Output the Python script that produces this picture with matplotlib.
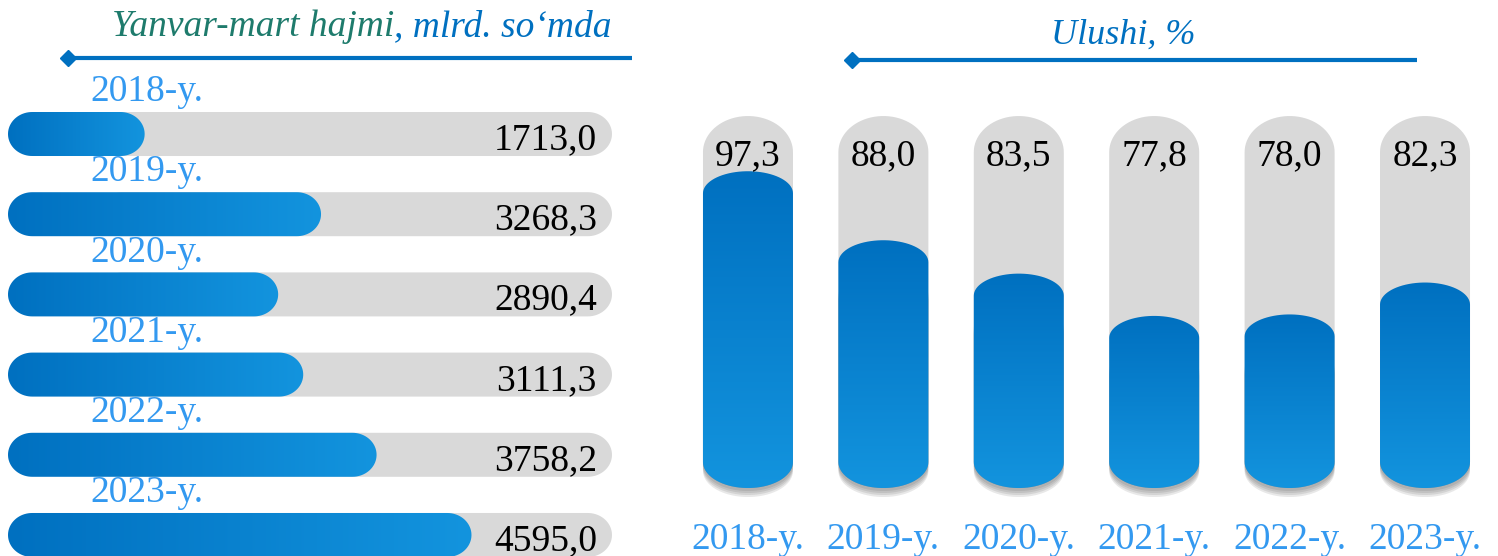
import numpy as np
import matplotlib.pyplot as plt
from matplotlib.path import Path
from matplotlib.patches import PathPatch
from matplotlib.lines import Line2D
from matplotlib.colors import LinearSegmentedColormap

# data
years = ['2018-y.', '2019-y.', '2020-y.', '2021-y.', '2022-y.', '2023-y.']
volume = [1713.0, 3268.3, 2890.4, 3111.3, 3758.2, 4595.0]   # mlrd. so'm
share = [97.3, 88.0, 83.5, 77.8, 78.0, 82.3]               # %

BLUE_DARK = '#0070c0'
BLUE_LIGHT = '#1394de'
GREY = '#d9d9d9'
YEAR_COLOR = '#3399f0'
TEAL = '#1e7b6c'

plt.rcParams['font.family'] = ['Liberation Serif', 'DejaVu Serif']

W, H = 1498, 556
fig = plt.figure(figsize=(W / 100, H / 100), dpi=100)
cmap = LinearSegmentedColormap.from_list('bl', [BLUE_DARK, BLUE_LIGHT])


def fmt(v):
    return f'{v:.1f}'.replace('.', ',')


def to_data(ax, pts):
    return ax.transData.inverted().transform(np.array(pts))


def hcapsule(ax, x0, x1, yc, h_px, **kw):
    # horizontal bar with round ends, shape built in pixels
    p0 = ax.transData.transform((x0, yc))
    p1 = ax.transData.transform((x1, yc))
    ry = h_px / 2
    rx = min(ry * 1.1, (p1[0] - p0[0]) / 2)
    t = np.linspace(-np.pi / 2, np.pi / 2, 40)
    right = np.c_[p1[0] - rx + rx * np.cos(t), p0[1] + ry * np.sin(t)]
    t2 = np.linspace(np.pi / 2, 3 * np.pi / 2, 40)
    left = np.c_[p0[0] + rx + rx * np.cos(t2), p0[1] + ry * np.sin(t2)]
    verts = to_data(ax, np.vstack([right, left, right[:1]]))
    patch = PathPatch(Path(verts), transform=ax.transData, **kw)
    ax.add_patch(patch)
    return patch


def vcapsule(ax, xc, y0, y1, w_px, ry_top, ry_bot, dy=0, **kw):
    # vertical bar with domed top and bottom
    p0 = ax.transData.transform((xc, y0))
    p1 = ax.transData.transform((xc, y1))
    rx = w_px / 2
    t = np.linspace(0, np.pi, 40)
    top = np.c_[p1[0] + rx * np.cos(t), p1[1] - ry_top + ry_top * np.sin(t)]
    t2 = np.linspace(np.pi, 2 * np.pi, 40)
    bot = np.c_[p0[0] + rx * np.cos(t2), p0[1] + ry_bot + ry_bot * np.sin(t2)]
    verts = np.vstack([top, bot, top[:1]])
    verts[:, 1] += dy
    patch = PathPatch(Path(to_data(ax, verts)), transform=ax.transData, **kw)
    ax.add_patch(patch)
    return patch


# ---------------- left panel: volume ----------------
axl = fig.add_axes([0, 0, 640 / W, 456 / H])
axl.set_xlim(437.5, 6081)
axl.set_ylim(5.262, -0.424)
axl.axis('off')
X_BASE = 508
TRACK_END = 5834
rows = np.arange(len(years))

for i, v in zip(rows, volume):
    hcapsule(axl, X_BASE + 800, TRACK_END, i, 44, facecolor=GREY, edgecolor='none', zorder=1)
    clip = hcapsule(axl, X_BASE, v, i, 44, facecolor='none', edgecolor='none', zorder=2)
    im = axl.imshow(np.linspace(0, 1, 256).reshape(1, -1), cmap=cmap, aspect='auto',
                    extent=(X_BASE, v, i + 0.4, i - 0.4), interpolation='bilinear', zorder=2)
    im.set_clip_path(clip)
    axl.annotate(fmt(v), (TRACK_END, i), xytext=(-15, -6), textcoords='offset pixels',
                 ha='right', va='center', fontsize=27, color='black', zorder=3)
    axl.annotate(years[i], (axl.get_xlim()[0], i), xytext=(90, 42), textcoords='offset pixels',
                 ha='left', va='center', fontsize=27, color=YEAR_COLOR, zorder=3)
axl.set_xlim(437.5, 6081)
axl.set_ylim(5.262, -0.424)

# ---------------- right panel: share ----------------
axr = fig.add_axes([680 / W, 0, 818 / W, 456 / H])
axr.set_xlim(-0.502, 5.539)
axr.set_ylim(45.44, 106.9)
axr.axis('off')
Y_BASE = 54.6
TRACK_TOP = 104.74

for i, v in zip(rows, share):
    vcapsule(axr, i, Y_BASE, TRACK_TOP, 90, 36, 26, facecolor=GREY, edgecolor='none', zorder=1)
    # soft shadow under the bar
    for dy in [-9, -7, -5, -3]:
        vcapsule(axr, i, Y_BASE, v - 4, 90, 22, 26, dy=dy, facecolor='#303030',
                 edgecolor='none', alpha=0.11, zorder=1.5)
    clip = vcapsule(axr, i, Y_BASE, v, 90, 22, 26, facecolor='none', edgecolor='none', zorder=2)
    im = axr.imshow(np.linspace(1, 0, 256).reshape(-1, 1), cmap=cmap, aspect='auto', origin='lower',
                    extent=(i - 0.4, i + 0.4, Y_BASE, v), interpolation='bilinear', zorder=2)
    im.set_clip_path(clip)
    axr.annotate(fmt(v), (i, TRACK_TOP), xytext=(0, -40), textcoords='offset pixels',
                 ha='center', va='center', fontsize=27, color='black', zorder=3)
    axr.annotate(years[i], (i, Y_BASE), xytext=(0, -52), textcoords='offset pixels',
                 ha='center', va='center', fontsize=27, color=YEAR_COLOR, zorder=3)
axr.set_xlim(-0.502, 5.539)
axr.set_ylim(45.44, 106.9)

# ---------------- headers ----------------
def fy(px):
    return 1 - px / H


renderer = fig.canvas.get_renderer()
t2 = fig.text(612 / W, fy(27), ', mlrd. so\u2018mda', ha='right', va='center',
              fontsize=27, style='italic', color=BLUE_DARK)
bb = t2.get_window_extent(renderer)
fig.text(bb.x0 / W, fy(27), 'Yanvar-mart hajmi', ha='right', va='center',
         fontsize=27, style='italic', color=TEAL)
fig.text(1123 / W, fy(35), 'Ulushi, %', ha='center', va='center',
         fontsize=26, style='italic', color=BLUE_DARK)

for x0, x1, y in [(68, 632, 58), (852, 1417, 60)]:
    fig.add_artist(Line2D([x0 / W, x1 / W], [fy(y), fy(y)], transform=fig.transFigure,
                          color=BLUE_DARK, lw=3, solid_capstyle='butt'))
    fig.add_artist(Line2D([x0 / W], [fy(y)], transform=fig.transFigure, marker='D',
                          markersize=8, color=BLUE_DARK, lw=0))

fig.savefig('out.png', dpi=100)
